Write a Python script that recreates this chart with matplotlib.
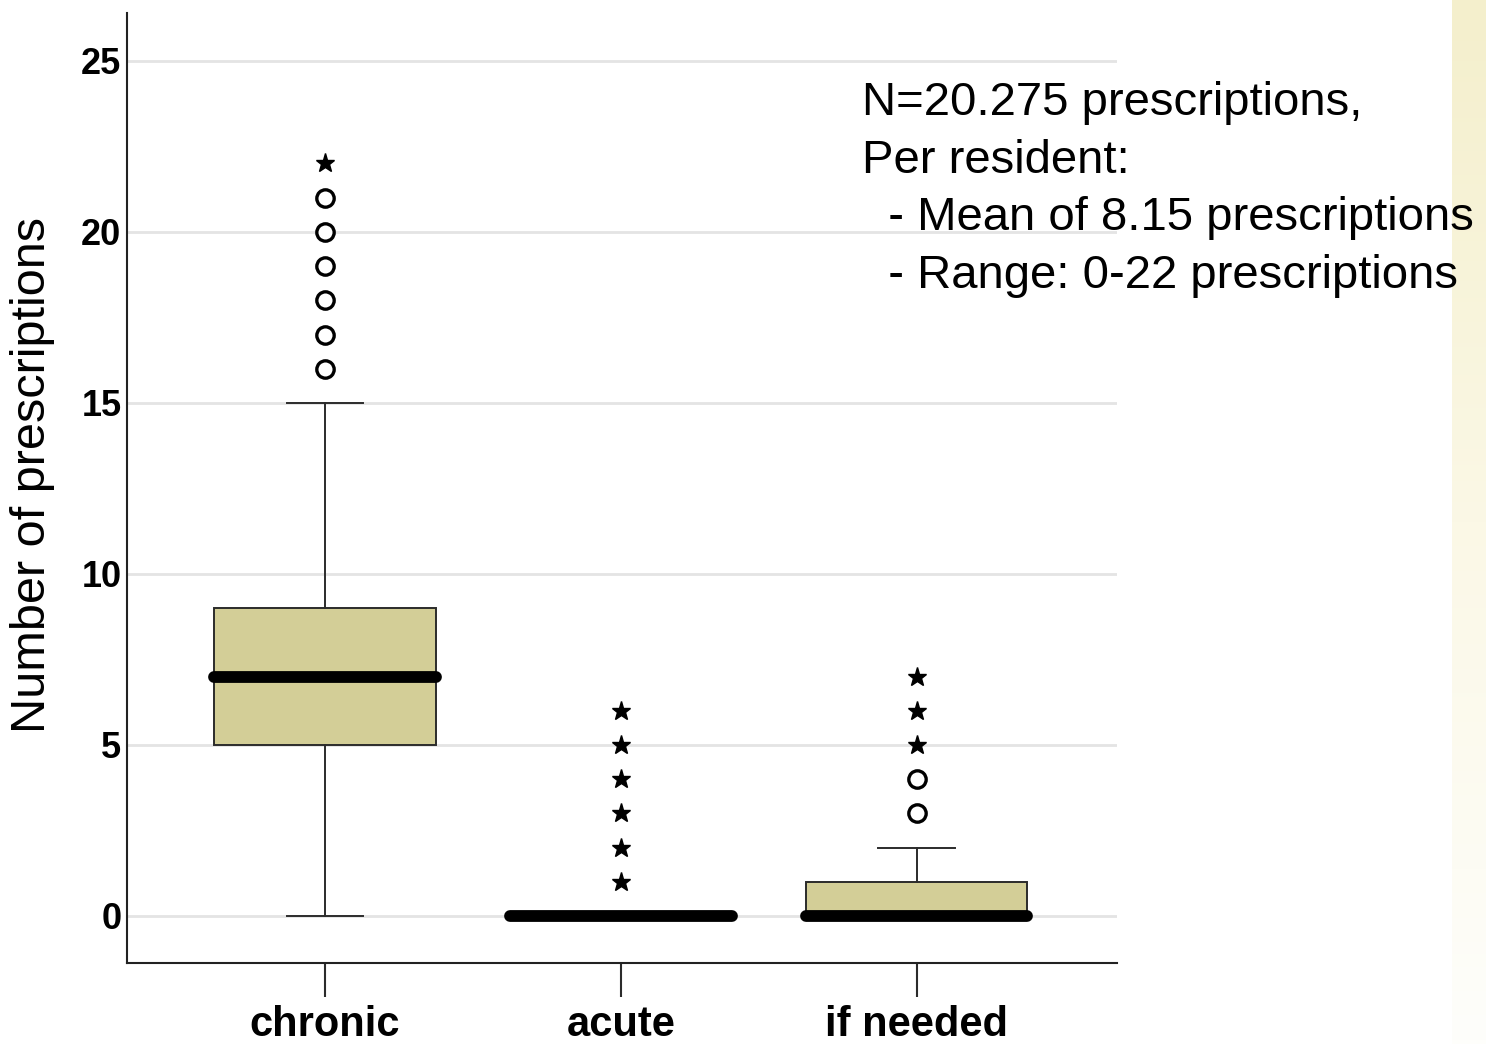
import numpy
import matplotlib as mpl
mpl.use('Agg')
import matplotlib.pyplot as plt
from matplotlib.colors import LinearSegmentedColormap

#
#--- box statistics per prescription type
#
categories = ['chronic', 'acute', 'if needed']
q1_vals    = [5, 0, 0]
med_vals   = [7, 0, 0]
q3_vals    = [9, 0, 1]
whislo     = [0, 0, 0]
whishi     = [15, 0, 2]
#
#--- outliers (circles) and extremes (stars)
#
outliers   = [[16, 17, 18, 19, 20, 21], [], [3, 4]]
extremes   = [[22], [1, 2, 3, 4, 5, 6], [5, 6, 7]]

yticks     = [0, 5, 10, 15, 20, 25]
note       = 'N=20.275 prescriptions,\nPer resident:\n  - Mean of 8.15 prescriptions\n  - Range: 0-22 prescriptions'

box_color  = '#d3ce97'
edge_color = '#2b2b2b'

#-------------------------------------------------------------------------------
#-- plot_data: draw the box plot of prescriptions per resident              ---
#-------------------------------------------------------------------------------

def plot_data():

    plt.close('all')
    mpl.rcParams['font.family'] = ['Liberation Sans', 'DejaVu Sans']

    fig = plt.figure(figsize=(14.86, 10.44), dpi=100)
#
#--- pale yellow strip on the right edge
#
    sx   = fig.add_axes([1452 / 1486, 0, 34 / 1486, 1], zorder=-1)
    cmap = LinearSegmentedColormap.from_list('strip', ['#f4efcc', '#fbf8e6', '#fefefb'])
    grad = numpy.linspace(0, 1, 256).reshape(-1, 1)
    sx.imshow(grad, aspect='auto', cmap=cmap, extent=[0, 1, 0, 1], origin='upper')
    sx.set_axis_off()
#
#--- main panel
#
    ax = fig.add_axes([127 / 1486, 1 - 963 / 1044, 990 / 1486, 950 / 1044])

    pos   = [1, 2, 3]
    stats = []
    for i in range(0, len(categories)):
        stats.append({'label': categories[i], 'q1': q1_vals[i], 'med': med_vals[i],
                      'q3': q3_vals[i], 'whislo': whislo[i], 'whishi': whishi[i],
                      'fliers': []})

    ax.bxp(stats, positions=pos, widths=0.747, patch_artist=True, showfliers=False,
           boxprops=dict(facecolor=box_color, edgecolor=edge_color, linewidth=1.4),
           whiskerprops=dict(color=edge_color, linewidth=1.4),
           capprops=dict(color=edge_color, linewidth=1.4),
           medianprops=dict(color='black', linewidth=8.5, solid_capstyle='round'),
           capwidths=0.26, zorder=3)

    for i in range(0, len(categories)):
        if len(outliers[i]) > 0:
            ax.plot([pos[i]] * len(outliers[i]), outliers[i], linestyle='none',
                    marker='o', markersize=12.5, markerfacecolor='white',
                    markeredgecolor='black', markeredgewidth=2.4, zorder=4)
        if len(extremes[i]) > 0:
            ax.plot([pos[i]] * len(extremes[i]), extremes[i], linestyle='none',
                    marker='*', markersize=14, color='black', zorder=4)
#
#--- axes ranges, grid and frame
#
    ax.set_xlim(0.331, 3.676)
    ax.set_ylim(-1.376, 26.4)

    ax.set_yticks(yticks)
    ax.set_yticklabels([str(v) for v in yticks], fontsize=26, fontweight='bold')
    ax.set_xticks(pos)
    ax.set_xticklabels(categories, fontsize=30, fontweight='bold')

    ax.tick_params(axis='y', length=0, pad=4)
    ax.tick_params(axis='x', length=24.5, width=1.5, color=edge_color, pad=6)

    ax.yaxis.grid(True, color='#e4e4e4', linewidth=2.0)
    ax.set_axisbelow(True)

    for side in ['top', 'right']:
        ax.spines[side].set_visible(False)
    for side in ['left', 'bottom']:
        ax.spines[side].set_linewidth(1.5)
        ax.spines[side].set_color('#222222')

    ax.set_ylabel('Number of prescriptions', fontsize=35)
    ax.yaxis.set_label_coords(-0.073, 0.514)
#
#--- summary note
#
    fig.text(862 / 1486, 1 - 81 / 1044, note, fontsize=34, va='top', ha='left',
             linespacing=1.40, zorder=5)

    plt.savefig('out.png', dpi=100)
    plt.close('all')

if __name__ == '__main__':

    plot_data()
